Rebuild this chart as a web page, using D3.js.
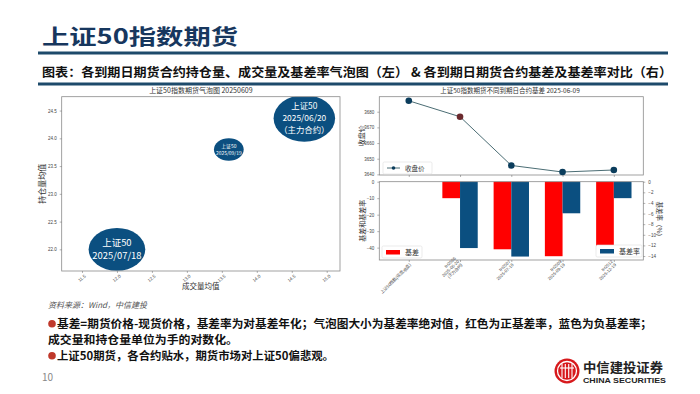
<!DOCTYPE html>
<html>
<head>
<meta charset="utf-8">
<script src="https://cdnjs.cloudflare.com/ajax/libs/d3/7.8.5/d3.min.js"></script>
<style>
  body { margin: 0; background: #fff; }
  svg { display: block; }
</style>
</head>
<body>
<div id="chart"></div>
<script>
// ---- data ----
// left: bubble chart (log volume / log open interest, size = |basis rate|)
const bubbleLabels = ["上证50\n2025/06/20\n（主力合约）", "上证50\n2025/09/19", "上证50\n2025/07/18"];
const bubbleVolume = [14.68, 13.6, 12.0];
const bubbleOpenInt = [24.36, 23.8, 22.0];
const bubbleSize = [12.4, 2.9, 10.5];
const bubbleXTicks = [11.5, 12.0, 12.5, 13.0, 13.5, 14.0, 14.5, 15.0];
const bubbleYTicks = [22.0, 22.5, 23.0, 23.5, 24.0, 24.5];

// right: close price line + basis / basis-rate bars
const categories = ["上证50指数(现货,收盘)", "IH2506\n2025-06-20\n(主力合约)", "IH2507\n2025-07-18", "IH2509\n2025-09-19", "IH2512\n2025-12-19"];
const closePrice = [3687.0, 3676.8, 3645.7, 3641.5, 3642.8];
const basis = [null, -10.0, -41.0, -45.2, -40.0];
const basisRate = [null, -12.5, -14.1, -5.95, -3.1];
const priceTicks = [3640, 3650, 3660, 3670, 3680];
const basisTicks = [0, -10, -20, -30, -40];
const rateTicks = [0, -2, -4, -6, -8, -10, -12, -14];

const width = 700, height = 394;
const CJK = "'Noto Sans CJK SC', 'Noto Sans', sans-serif";
const navy = "#0b4f80";
const spine = "#8a8a8a";

const svg = d3.select("#chart")
  .append("svg")
  .attr("width", width)
  .attr("height", height)
  .style("font-family", CJK);

// ---- page header ----
svg.append("text")
  .attr("x", 42).attr("y", 44)
  .attr("textLength", 196).attr("lengthAdjust", "spacingAndGlyphs")
  .style("font-size", "21px").style("font-weight", "bold")
  .attr("fill", "#17375e")
  .text("上证50指数期货");

[53, 84].forEach(y => {
  svg.append("line")
    .attr("x1", 38).attr("x2", 668).attr("y1", y).attr("y2", y)
    .attr("stroke", "#1d4a6b").attr("stroke-width", 3);
});

svg.append("text")
  .attr("x", 42).attr("y", 77)
  .attr("textLength", 630).attr("lengthAdjust", "spacingAndGlyphs")
  .style("font-size", "12.5px").style("font-weight", "bold")
  .attr("fill", "#111")
  .text("图表：各到期日期货合约持仓量、成交量及基差率气泡图（左） & 各到期日期货合约基差及基差率对比（右）");

// ---- left: bubble chart ----
const bm = {left: 61.7, right: 340, top: 96.7, bottom: 271};

const bx = d3.scaleLinear().domain([11.21, 15.19]).range([bm.left, bm.right]);
const by = d3.scaleLinear().domain([21.61, 24.75]).range([bm.bottom, bm.top]);
const br = d3.scaleSqrt().domain([0, d3.max(bubbleSize)]).range([0, 23.3]);
const stretch = 1.32;   // the source plot is stretched horizontally

svg.append("clipPath").attr("id", "bclip")
  .append("rect")
  .attr("x", bm.left).attr("y", bm.top)
  .attr("width", bm.right - bm.left).attr("height", bm.bottom - bm.top);

const bubbles = svg.append("g").attr("clip-path", "url(#bclip)")
  .selectAll("g")
  .data(bubbleLabels.map((label, i) => ({label, x: bubbleVolume[i], y: bubbleOpenInt[i], s: bubbleSize[i]})))
  .enter()
  .append("g")
  .attr("transform", d => `translate(${bx(d.x)},${by(d.y)})`);

bubbles.append("ellipse")
  .attr("rx", d => br(d.s) * stretch)
  .attr("ry", d => br(d.s))
  .attr("fill", navy);

// one text element per line so the lines don't collide
bubbles.each(function(d) {
  const lines = d.label.split("\n");
  const fs = br(d.s) * (lines.length > 2 ? 0.36 : 0.44);
  lines.forEach((ln, j) => {
    d3.select(this).append("text")
      .attr("text-anchor", "middle")
      .attr("fill", "#fff")
      .style("font-size", fs + "px")
      .attr("y", (j - (lines.length - 1) / 2) * fs * 1.42 + fs * 0.36)
      .text(ln);
  });
});

svg.append("rect")
  .attr("x", bm.left).attr("y", bm.top)
  .attr("width", bm.right - bm.left).attr("height", bm.bottom - bm.top)
  .attr("fill", "none").attr("stroke", spine).attr("stroke-width", 0.8);

const bAxisY = svg.append("g")
  .attr("transform", `translate(${bm.left},0)`)
  .call(d3.axisLeft(by).tickValues(bubbleYTicks).tickFormat(d3.format(".1f")).tickSize(2).tickPadding(3));
const bAxisX = svg.append("g")
  .attr("transform", `translate(0,${bm.bottom})`)
  .call(d3.axisBottom(bx).tickValues(bubbleXTicks).tickFormat(d3.format(".1f")).tickSize(2).tickPadding(2));
bAxisX.selectAll("text")
  .style("text-anchor", "end")
  .attr("dx", "-0.2em").attr("dy", "0.6em")
  .attr("transform", "rotate(-40)");

svg.append("text")
  .attr("x", (bm.left + bm.right) / 2).attr("y", 93)
  .attr("text-anchor", "middle")
  .style("font-size", "7px").attr("fill", "#333")
  .text("上证50指数期货气泡图  20250609");

svg.append("text")
  .attr("x", (bm.left + bm.right) / 2).attr("y", 289)
  .attr("text-anchor", "middle")
  .style("font-size", "7.5px").attr("fill", "#333")
  .text("成交量均值");

svg.append("text")
  .attr("transform", `translate(45,${(bm.top + bm.bottom) / 2}) rotate(-90)`)
  .attr("text-anchor", "middle")
  .style("font-size", "8px").attr("fill", "#333")
  .text("持仓量均值");

// ---- right top: close price line ----
const lm = {left: 379.3, right: 643.3, top: 96.7, bottom: 175};

const xp = d3.scalePoint().domain(categories).range([lm.left, lm.right]).padding(0.575);
const yp = d3.scaleLinear().domain([3639.6, 3689.6]).range([lm.bottom, lm.top]);

svg.append("rect")
  .attr("x", lm.left).attr("y", lm.top)
  .attr("width", lm.right - lm.left).attr("height", lm.bottom - lm.top)
  .attr("fill", "none").attr("stroke", spine).attr("stroke-width", 0.8);

const priceData = categories.map((c, i) => ({c, v: closePrice[i], i}));

svg.append("path")
  .datum(priceData)
  .attr("fill", "none")
  .attr("stroke", "#4b6d74")
  .attr("stroke-width", 1)
  .attr("d", d3.line().x(d => xp(d.c)).y(d => yp(d.v)));

svg.selectAll(".pt")
  .data(priceData)
  .enter()
  .append("circle")
  .attr("cx", d => xp(d.c))
  .attr("cy", d => yp(d.v))
  .attr("r", 3.3)
  .attr("fill", d => d.i === 1 ? "#6b2a2e" : "#0b3d5c");

const pAxisY = svg.append("g")
  .attr("transform", `translate(${lm.left},0)`)
  .call(d3.axisLeft(yp).tickValues(priceTicks).tickFormat(d3.format("d")).tickSize(2).tickPadding(3));
const pAxisX = svg.append("g")
  .attr("transform", `translate(0,${lm.bottom})`)
  .call(d3.axisBottom(xp).tickSize(2).tickFormat(""));

svg.append("text")
  .attr("x", 510).attr("y", 93)
  .attr("text-anchor", "middle")
  .style("font-size", "6.5px").attr("fill", "#333")
  .text("上证50指数期货不同到期日合约基差  2025-06-09");

svg.append("text")
  .attr("transform", `translate(364,${(lm.top + lm.bottom) / 2}) rotate(-90)`)
  .attr("text-anchor", "middle")
  .style("font-size", "7px").attr("fill", "#333")
  .text("收盘价");

const lg = svg.append("g").attr("transform", "translate(383,162)");
lg.append("rect").attr("width", 49).attr("height", 12).attr("rx", 1.5)
  .attr("fill", "#fff").attr("stroke", "#ddd").attr("stroke-width", 0.6);
lg.append("line").attr("x1", 4).attr("x2", 17).attr("y1", 6).attr("y2", 6)
  .attr("stroke", "#4b6d74").attr("stroke-width", 1);
lg.append("circle").attr("cx", 10.5).attr("cy", 6).attr("r", 1.8).attr("fill", "#0b3d5c");
lg.append("text").attr("x", 22).attr("y", 8.5)
  .style("font-size", "6.5px").attr("fill", "#333").text("收盘价");

// ---- right bottom: basis / basis rate bars ----
const gm = {left: 379.3, right: 643.3, top: 181.7, bottom: 260};

const yb = d3.scaleLinear().domain([-47.5, 0]).range([gm.bottom, gm.top]);
const yr = d3.scaleLinear().domain([-14.75, 0]).range([gm.bottom, gm.top]);
const barW = xp.step() * 0.345;

const barData = categories.map((c, i) => ({c, basis: basis[i], rate: basisRate[i]}))
  .filter(d => d.basis !== null);

svg.selectAll(".bar-basis")
  .data(barData)
  .enter()
  .append("rect")
  .attr("x", d => xp(d.c) - barW)
  .attr("y", yb(0))
  .attr("width", barW)
  .attr("height", d => yb(d.basis) - yb(0))
  .attr("fill", "#ff0000");

svg.selectAll(".bar-rate")
  .data(barData)
  .enter()
  .append("rect")
  .attr("x", d => xp(d.c))
  .attr("y", yr(0))
  .attr("width", barW)
  .attr("height", d => yr(d.rate) - yr(0))
  .attr("fill", navy);

svg.append("rect")
  .attr("x", gm.left).attr("y", gm.top)
  .attr("width", gm.right - gm.left).attr("height", gm.bottom - gm.top)
  .attr("fill", "none").attr("stroke", spine).attr("stroke-width", 0.8);

const gAxisL = svg.append("g")
  .attr("transform", `translate(${gm.left},0)`)
  .call(d3.axisLeft(yb).tickValues(basisTicks).tickSize(2).tickPadding(3));
const gAxisR = svg.append("g")
  .attr("transform", `translate(${gm.right},0)`)
  .call(d3.axisRight(yr).tickValues(rateTicks).tickSize(2).tickPadding(3));
const gAxisX = svg.append("g")
  .attr("transform", `translate(0,${gm.bottom})`)
  .call(d3.axisBottom(xp).tickSize(2).tickFormat(""));

// rotated multi-line category labels
gAxisX.selectAll(".tick").each(function(c) {
  const lines = c.split("\n");
  const t = d3.select(this).append("text")
    .attr("transform", "translate(1,4) rotate(-45)")
    .attr("text-anchor", "end")
    .attr("fill", "#333")
    .style("font-size", "4.3px");
  lines.forEach((ln, j) => {
    t.append("tspan")
      .attr("x", 0)
      .attr("y", (j - lines.length + 1) * 4.6 + 1.5)
      .text(ln);
  });
});

svg.append("text")
  .attr("transform", `translate(365,${(gm.top + gm.bottom) / 2}) rotate(-90)`)
  .attr("text-anchor", "middle")
  .style("font-size", "7px").attr("fill", "#333")
  .text("基差和基差率");

svg.append("text")
  .attr("transform", `translate(657,${(gm.top + gm.bottom) / 2}) rotate(90)`)
  .attr("text-anchor", "middle")
  .style("font-size", "6.5px").attr("fill", "#333")
  .text("基差率（%）");

const legB = svg.append("g").attr("transform", "translate(382,246)");
legB.append("rect").attr("width", 40).attr("height", 12).attr("rx", 1.5)
  .attr("fill", "#fff").attr("stroke", "#ddd").attr("stroke-width", 0.6);
legB.append("rect").attr("x", 4).attr("y", 4).attr("width", 14).attr("height", 4.5).attr("fill", "#ff0000");
legB.append("text").attr("x", 23).attr("y", 8.8)
  .style("font-size", "7px").attr("fill", "#333").text("基差");

const legR = svg.append("g").attr("transform", "translate(596,245)");
legR.append("rect").attr("width", 46).attr("height", 12).attr("rx", 1.5)
  .attr("fill", "#fff").attr("stroke", "#ddd").attr("stroke-width", 0.6);
legR.append("rect").attr("x", 4).attr("y", 4).attr("width", 14).attr("height", 4.5).attr("fill", navy);
legR.append("text").attr("x", 23).attr("y", 8.8)
  .style("font-size", "7px").attr("fill", "#333").text("基差率");

// shared small tick styling
[bAxisY, bAxisX, pAxisY, pAxisX, gAxisL, gAxisR, gAxisX].forEach(a => {
  a.select(".domain").remove();
  a.selectAll("line").attr("stroke", "#666").attr("stroke-width", 0.5);
  a.selectAll("text").style("font-size", a === gAxisX ? "4.3px" : "4.5px").attr("fill", "#444");
});

// ---- notes below ----
svg.append("text")
  .attr("x", 48).attr("y", 308)
  .style("font-size", "8px").style("font-style", "italic")
  .attr("fill", "#555")
  .text("资料来源：Wind，中信建投");

const notes = [
  {y: 328, w: 604, bullet: true, text: "基差=期货价格-现货价格，基差率为对基差年化；气泡图大小为基差率绝对值，红色为正基差率，蓝色为负基差率；"},
  {y: 344, w: 190, bullet: false, text: "成交量和持仓量单位为手的对数化。"},
  {y: 360, w: 286, bullet: true, text: "上证50期货，各合约贴水，期货市场对上证50偏悲观。"}
];
notes.forEach(n => {
  if (n.bullet) {
    svg.append("circle").attr("cx", 52).attr("cy", n.y - 4.3).attr("r", 3.8).attr("fill", "#c0392b");
  }
  svg.append("text")
    .attr("x", n.bullet ? 57 : 48).attr("y", n.y)
    .attr("textLength", n.bullet ? n.w - 9 : n.w).attr("lengthAdjust", "spacingAndGlyphs")
    .style("font-size", "11px").style("font-weight", "bold")
    .attr("fill", "#111")
    .text(n.text);
});

svg.append("text")
  .attr("x", 42).attr("y", 381)
  .style("font-size", "10px").attr("fill", "#888")
  .text("10");

// ---- logo ----
const logo = svg.append("g").attr("transform", "translate(567,371)");
logo.append("circle").attr("r", 12.5).attr("fill", "#d7191c");
logo.append("circle").attr("r", 9.5).attr("fill", "none").attr("stroke", "#fff").attr("stroke-width", 1.3);
[-5, -1.7, 1.7, 5].forEach(dx => {
  logo.append("line").attr("x1", dx).attr("x2", dx).attr("y1", -7).attr("y2", 7)
    .attr("stroke", "#fff").attr("stroke-width", 1.1);
});
logo.append("line").attr("x1", -7).attr("x2", 7).attr("y1", -3).attr("y2", -3)
  .attr("stroke", "#fff").attr("stroke-width", 1.1);

svg.append("text")
  .attr("x", 583).attr("y", 372)
  .attr("textLength", 80).attr("lengthAdjust", "spacingAndGlyphs")
  .style("font-size", "13px").style("font-weight", "bold")
  .attr("fill", "#222")
  .text("中信建投证券");

svg.append("text")
  .attr("x", 583).attr("y", 383)
  .attr("textLength", 83).attr("lengthAdjust", "spacingAndGlyphs")
  .style("font-size", "7.5px").style("font-weight", "bold")
  .style("font-family", "'Liberation Sans', Arial, sans-serif")
  .attr("fill", "#222")
  .text("CHINA SECURITIES");
</script>
</body>
</html>
